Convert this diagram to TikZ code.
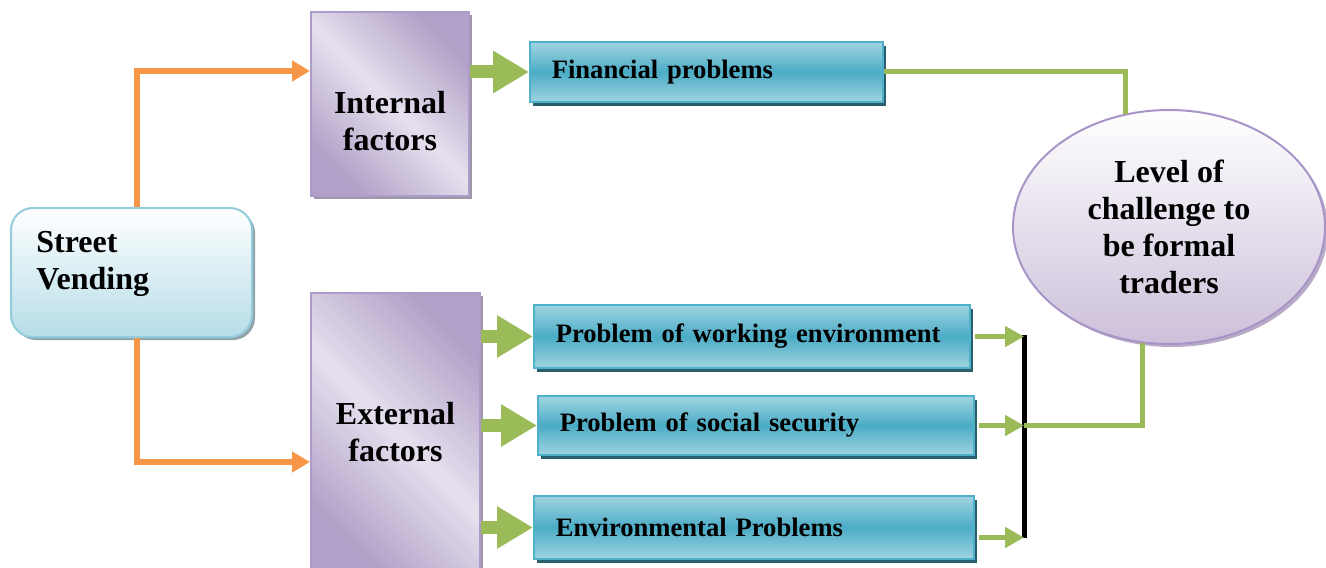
\documentclass[tikz,border=0pt]{standalone}
\usepackage{fontspec}
\setmainfont{Liberation Serif}
\usetikzlibrary{positioning, arrows.meta, shapes.geometric, shadows}
\definecolor{vendorange}{HTML}{F79646}
\definecolor{vendgreen}{HTML}{9BBB59}
\definecolor{vendfill}{HTML}{B6DDE8}
\definecolor{vendborder}{HTML}{93CDDD}
\definecolor{vendshadow}{HTML}{8FA3A9}
\definecolor{factdark}{HTML}{B1A0C7}
\definecolor{factlight}{HTML}{E6E0EE}
\definecolor{factborder}{HTML}{AD9BC9}
\definecolor{factshadow}{HTML}{9E97A8}
\definecolor{tealdark}{HTML}{4BACC6}
\definecolor{teallight}{HTML}{A0D4E1}
\definecolor{tealborder}{HTML}{4FB0C9}
\definecolor{tealshadow}{HTML}{2A5E6C}
\definecolor{levelfill}{HTML}{CCC0DA}
\definecolor{levelborder}{HTML}{A895C8}
\definecolor{levelshadow}{HTML}{B7ABC6}
\newcommand{\vendbig}{\fontsize{16}{18.5}\selectfont\bfseries}
\newcommand{\vendsmall}{\fontsize{13.3}{16}\selectfont\bfseries}
\tikzset{
	vendbox/.style={rectangle, rounded corners=11pt, draw=vendborder, line width=1pt, top color=white, bottom color=vendfill, minimum width=120.5pt, minimum height=64.5pt, general shadow={fill=vendshadow, shadow xshift=1.5pt, shadow yshift=-1.5pt}},
	factorbox/.style={rectangle, draw=factborder, line width=1pt, top color=factdark, bottom color=factdark, middle color=factlight, shading angle=-45, font=\vendbig, align=center, general shadow={fill=factshadow, shadow xshift=1.5pt, shadow yshift=-1.5pt}},
	probbox/.style={rectangle, draw=tealborder, line width=0.8pt, top color=teallight, bottom color=teallight, middle color=tealdark, inner xsep=11pt, align=left, anchor=west, font=\vendsmall, general shadow={fill=tealshadow, shadow xshift=1.5pt, shadow yshift=-2pt}},
	levelnode/.style={ellipse, draw=levelborder, line width=1pt, top color=white, bottom color=levelfill, minimum width=156pt, minimum height=117pt, align=center, font=\vendbig, general shadow={fill=levelshadow, shadow xshift=1.5pt, shadow yshift=-1.5pt}},
	vendline/.style={draw=vendorange, line width=2.75pt, -{Triangle[length=9pt, width=10pt]}},
	bigarrow/.style={draw=vendgreen, line width=6.5pt, -{Triangle[length=18pt, width=20pt]}},
	smallarrow/.style={draw=vendgreen, line width=2.75pt, shorten <=2pt, -{Triangle[length=9.5pt, width=10pt]}},
	joinline/.style={draw=vendgreen, line width=2.5pt},
	barline/.style={draw=black, line width=2.5pt},
}
\begin{document}
\begin{tikzpicture}[x=0.5pt, y=-0.5pt]
	\useasboundingbox (0,0) rectangle (1326,567);

	\node[vendbox, label={[font=\vendbig, align=left, anchor=west, inner sep=0pt, xshift=13pt, yshift=4.5pt]west:{Street\\Vending}}] (SV) at (131.5,272.5) {};
	\node[factorbox, minimum width=79pt, minimum height=92pt, label={[font=\vendbig, align=center, yshift=-8.75pt]center:{Internal\\factors}}] (INTERNAL) at (390,104) {};
	\node[factorbox, minimum width=84.5pt, minimum height=139.5pt] (EXTERNAL) at (395.5,432.5) {External\\factors};

	\node[probbox, text width=154.5pt, minimum height=30pt] (FIN) at (529,72) {Financial problems};
	\node[probbox, text width=196pt, minimum height=31.5pt] (WORK) at (533,336.5) {Problem of working environment};
	\node[probbox, text width=196pt, minimum height=29.5pt] (SOCIAL) at (537,425.5) {Problem of social security};
	\node[probbox, text width=198pt, minimum height=31.5pt] (ENV) at (533,527.5) {Environmental Problems};

	\node[levelnode] (LEVEL) at (1169,227) {Level of\\challenge to\\be formal\\traders};

	% street vending to the two kinds of factors
	\draw[vendline] ([xshift=2.75pt]SV.north) |- ([yshift=16.5pt]INTERNAL.west);
	\draw[vendline] ([xshift=2.75pt]SV.south) |- ([yshift=-14.75pt]EXTERNAL.west);

	% factors to problems
	\draw[bigarrow] (INTERNAL.east |- FIN.west) -- (FIN.west);
	\foreach \prob in {WORK, SOCIAL, ENV}
		\draw[bigarrow] (EXTERNAL.east |- \prob.west) -- (\prob.west);

	% problems to the level of challenge
	\coordinate (BARTOP) at (1024,335);
	\coordinate (BARBOT) at (1024,538);
	\coordinate (ENVOUT) at ([yshift=-5pt]ENV.east);
	\draw[barline] (BARTOP) -- (BARBOT);
	\draw[smallarrow] (WORK.east) -- (WORK.east -| BARTOP);
	\draw[smallarrow] (SOCIAL.east) -- (SOCIAL.east -| BARTOP);
	\draw[smallarrow] (ENVOUT) -- (ENVOUT -| BARBOT);
	\draw[joinline] (SOCIAL.east -| BARTOP) -| (LEVEL.257);
	\draw[joinline] (FIN.east) -| (LEVEL.111);

\end{tikzpicture}
\end{document}
